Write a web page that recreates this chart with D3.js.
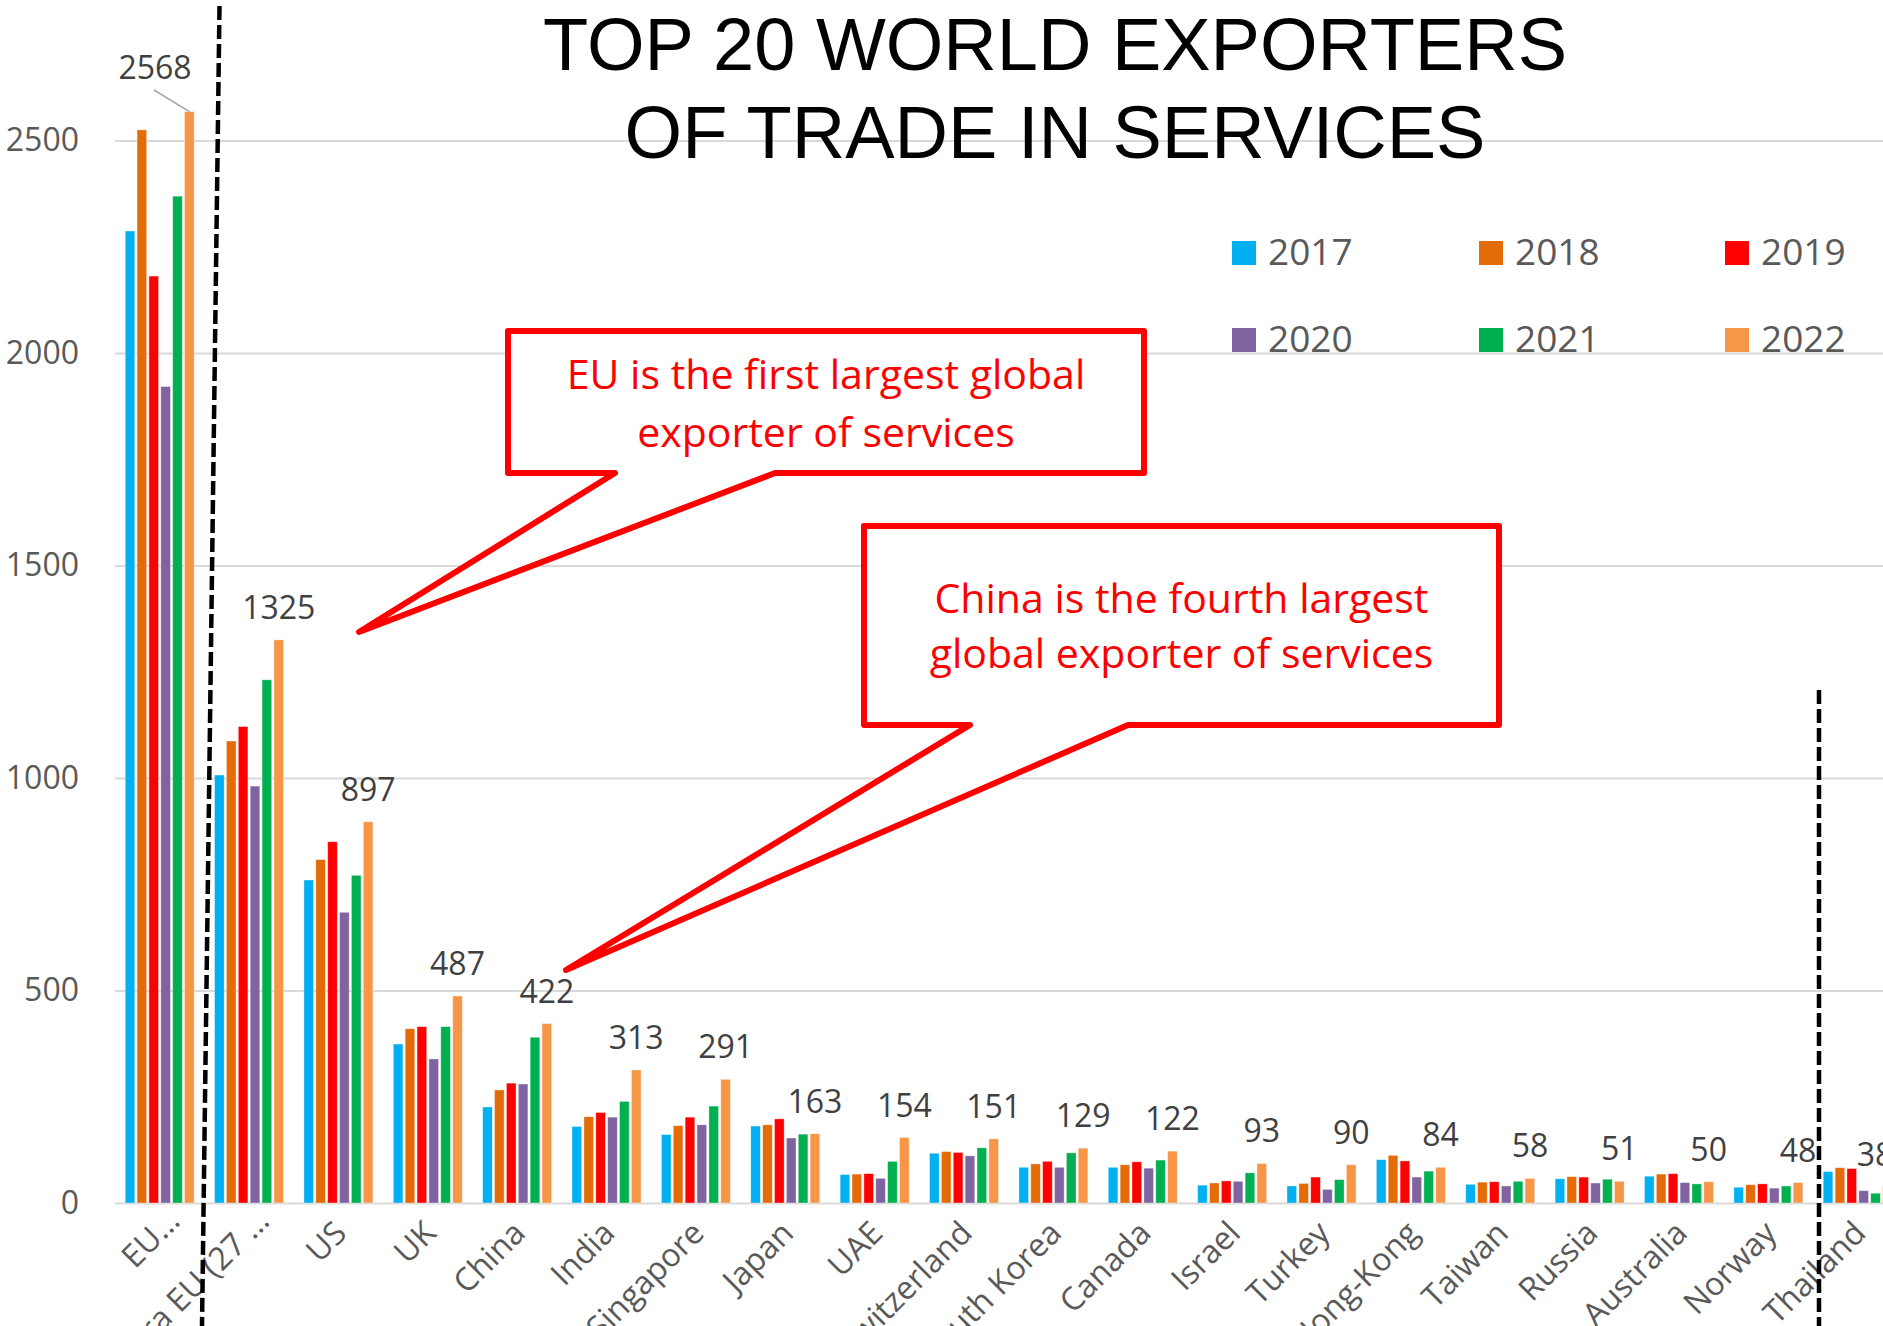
<!DOCTYPE html>
<html>
<head>
<meta charset="utf-8">
<script src="https://cdn.jsdelivr.net/npm/d3@7"></script>
<style>
  html, body { margin: 0; padding: 0; background: #fff; overflow: hidden; }
  svg { display: block; }
</style>
</head>
<body>
<script>
// ---------------- DATA ----------------
const categories = ["EU…", "Extra EU (27 …", "US", "UK", "China", "India", "Singapore", "Japan", "UAE",
  "Switzerland", "South Korea", "Canada", "Israel", "Turkey", "Hong-Kong", "Taiwan", "Russia",
  "Australia", "Norway", "Thailand"];
const years = ["2017", "2018", "2019", "2020", "2021", "2022"];
const v2017 = [2287, 1007, 760, 374, 226, 180, 161, 181, 67, 117, 84, 84, 42, 40, 102, 44, 57, 63, 37, 74];
const v2018 = [2525, 1087, 808, 410, 266, 203, 182, 184, 68, 121, 92, 90, 47, 46, 112, 49, 62, 68, 43, 83];
const v2019 = [2181, 1121, 850, 415, 282, 213, 202, 198, 69, 119, 98, 97, 52, 61, 99, 50, 61, 69, 45, 81];
const v2020 = [1921, 981, 684, 339, 280, 202, 184, 153, 58, 111, 84, 82, 51, 32, 61, 40, 47, 48, 35, 29];
const v2021 = [2369, 1231, 771, 415, 390, 239, 228, 162, 98, 130, 118, 101, 71, 55, 75, 51, 56, 45, 40, 23];
const v2022 = [2568, 1325, 897, 487, 422, 313, 291, 163, 154, 151, 129, 122, 93, 90, 84, 58, 51, 50, 48, 38];
const yTicks = [0, 500, 1000, 1500, 2000, 2500];
const colors = ["#00B0F0", "#E36C09", "#FF0000", "#8064A2", "#00B050", "#F79646"];
const titleLines = ["TOP 20 WORLD EXPORTERS", "OF TRADE IN SERVICES"];
const callout1Lines = ["EU is the first largest global", "exporter of services"];
const callout2Lines = ["China is the fourth largest", "global exporter of services"];

const series = [v2017, v2018, v2019, v2020, v2021, v2022];
const table = categories.map((c, i) => ({ cat: c, values: years.map((yr, j) => ({ year: yr, value: series[j][i] })) }));

// ---------------- LAYOUT ----------------
const W = 1883, H = 1326;
const plotLeft = 115;
const step = 89.37;

const svg = d3.select("body").append("svg")
  .attr("width", W).attr("height", H)
  .style("font-family", "'Open Sans', sans-serif");

const y = d3.scaleLinear().domain([0, 2500]).range([1203, 140.5]);
const x0 = d3.scaleBand().domain(categories)
  .range([plotLeft, plotLeft + step * categories.length])
  .paddingInner(0.228).paddingOuter(0.114);
const x1 = d3.scaleBand().domain(years).range([0, x0.bandwidth()]).paddingInner(0.19);
const color = d3.scaleOrdinal().domain(years).range(colors);

// gridlines + y tick labels
const yAxis = d3.axisLeft(y).tickValues(yTicks).tickSize(-(W - plotLeft)).tickPadding(36).tickFormat(d3.format("d"));
const gy = svg.append("g").attr("transform", `translate(${plotLeft},0)`).call(yAxis);
gy.select(".domain").remove();
gy.selectAll(".tick line").attr("stroke", "#d9d9d9").attr("stroke-width", 2);
gy.selectAll(".tick text").attr("font-size", 32).attr("fill", "#595959")
  .attr("font-family", "'Open Sans', sans-serif");

// bars
const groups = svg.append("g").selectAll("g.grp").data(table).join("g")
  .attr("class", "grp")
  .attr("transform", d => `translate(${x0(d.cat)},0)`);
groups.selectAll("rect").data(d => d.values).join("rect")
  .attr("x", d => x1(d.year))
  .attr("y", d => y(d.value))
  .attr("width", x1.bandwidth())
  .attr("height", d => y(0) - y(d.value))
  .attr("fill", d => color(d.year))
  .attr("stroke", "#ffffff").attr("stroke-opacity", 0.45).attr("stroke-width", 0.8);

// data labels for 2022
const lastYear = years[years.length - 1];
const labelG = svg.append("g");
table.forEach((d, i) => {
  const v = d.values[d.values.length - 1].value;
  const cx = x0(d.cat) + x1(lastYear) + x1.bandwidth() / 2;
  let lx = Math.min(cx, 1875), ly = y(v) - 21;
  if (i === 0) {
    lx = 155; ly = 79;
    labelG.append("line")
      .attr("x1", 154).attr("y1", 90).attr("x2", cx).attr("y2", y(v))
      .attr("stroke", "#a6a6a6").attr("stroke-width", 1.5);
  }
  labelG.append("text").attr("x", lx).attr("y", ly)
    .attr("text-anchor", "middle").attr("font-size", 32).attr("fill", "#404040")
    .text(v);
});

// x-axis category labels
svg.append("g").selectAll("text").data(categories).join("text")
  .attr("transform", d => `translate(${x0(d) + x0.bandwidth() / 2 + 10},1235) rotate(-45)`)
  .attr("text-anchor", "end")
  .attr("dx", d => d.endsWith("…") ? 17 : 0)
  .attr("font-size", 32).attr("fill", "#595959")
  .text(d => d);

// dashed separators
svg.append("line").attr("x1", 219.5).attr("y1", 6).attr("x2", 202).attr("y2", H)
  .attr("stroke", "#000").attr("stroke-width", 4.5).attr("stroke-dasharray", "14,5");
svg.append("line").attr("x1", 1819).attr("y1", 690).attr("x2", 1819).attr("y2", H)
  .attr("stroke", "#000").attr("stroke-width", 4.5).attr("stroke-dasharray", "14,5");

// title
svg.append("g").selectAll("text").data(titleLines).join("text")
  .attr("x", 1055).attr("y", (d, i) => 70 + i * 88)
  .attr("text-anchor", "middle")
  .attr("font-family", "'Liberation Sans', Arial, sans-serif")
  .attr("font-size", 74).attr("fill", "#000")
  .text(d => d);

// legend
const legend = svg.append("g").selectAll("g").data(years).join("g")
  .attr("transform", (d, i) => `translate(${[1232, 1479, 1725][i % 3]},${[241, 328][Math.floor(i / 3)]})`);
legend.append("rect").attr("width", 24).attr("height", 24).attr("fill", d => color(d));
legend.append("text").attr("x", 36).attr("y", 24).attr("font-size", 37).attr("fill", "#595959").text(d => d);

// callouts
function callout(bx0, by0, bx1, by1, baseL, baseR, tipX, tipY, lines, tx, ty0, lh) {
  const g = svg.append("g");
  g.append("path")
    .attr("d", `M${bx0},${by0} H${bx1} V${by1} H${baseR} L${tipX},${tipY} L${baseL},${by1} H${bx0} Z`)
    .attr("fill", "#fff").attr("stroke", "#FF0000").attr("stroke-width", 6)
    .attr("stroke-linejoin", "round");
  g.selectAll("text").data(lines).join("text")
    .attr("x", tx).attr("y", (d, i) => ty0 + i * lh)
    .attr("text-anchor", "middle").attr("font-size", 41).attr("fill", "#FF0000")
    .text(d => d);
}
callout(508, 331, 1144, 473, 615, 775, 359, 632, callout1Lines, 826, 389, 57.5);
callout(864, 526, 1499, 725, 970, 1128, 566, 970, callout2Lines, 1181.5, 613, 55);
</script>
</body>
</html>
